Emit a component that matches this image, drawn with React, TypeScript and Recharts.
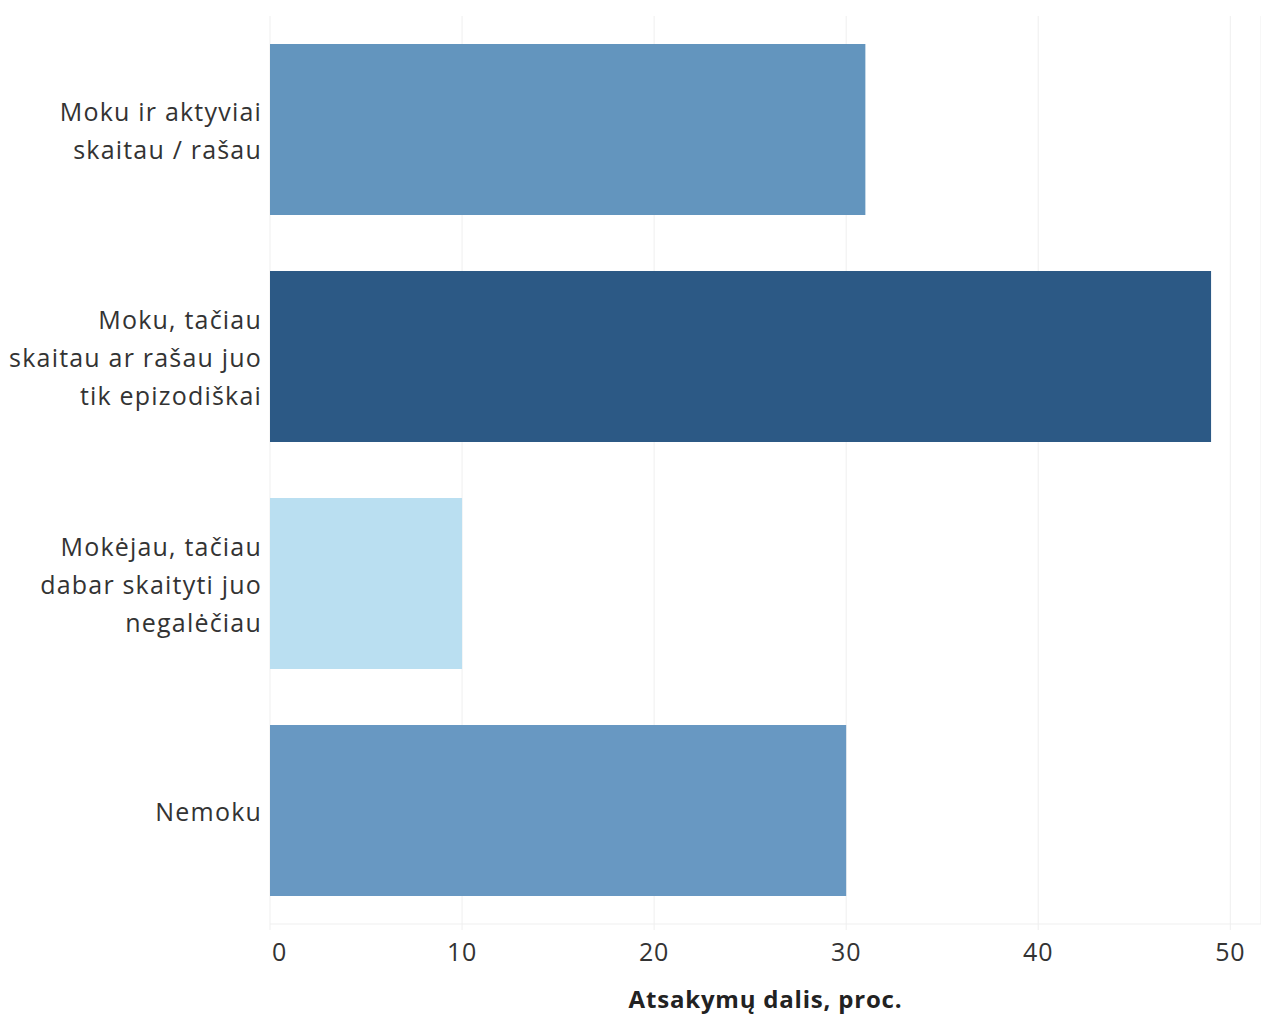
import { BarChart, Bar, XAxis, YAxis, CartesianGrid, Cell, Label } from "recharts";

const categories = [
  "Moku ir aktyviai\nskaitau / rašau",
  "Moku, tačiau\nskaitau ar rašau juo\ntik epizodiškai",
  "Mokėjau, tačiau\ndabar skaityti juo\nnegalėčiau",
  "Nemoku",
];
const shares = [31, 49, 10, 30];
const colors = ["#6395be", "#2c5985", "#badff1", "#6898c2"];
const xTicks = [0, 10, 20, 30, 40, 50];

const data = categories.map((name, i) => ({ name, value: shares[i] }));

const FONT = "'Open Sans', sans-serif";

function CategoryTick({ x, y, payload }: any) {
  const lines = String(payload.value).split("\n");
  const lh = 38;
  const start = y + 2 - ((lines.length - 1) * lh) / 2;
  return (
    <text
      x={x}
      y={start}
      textAnchor="end"
      fill="#333"
      fontSize={25}
      letterSpacing={1.2}
      fontFamily={FONT}
    >
      {lines.map((l, i) => (
        <tspan key={i} x={x} y={start + i * lh} dy="0.35em">
          {l}
        </tspan>
      ))}
    </text>
  );
}

function ValueTick({ x, y, payload }: any) {
  const isZero = payload.value === 0;
  return (
    <text
      x={isZero ? x + 2 : x}
      y={y + 29}
      textAnchor={isZero ? "start" : "middle"}
      fill="#333"
      fontSize={25}
      letterSpacing={0.8}
      fontFamily={FONT}
    >
      {payload.value}
    </text>
  );
}

export default function App() {
  return (
    <div style={{ position: "absolute", left: 0, top: 0, background: "#fff" }}>
      <BarChart
        width={1261}
        height={1014}
        data={data}
        layout="vertical"
        margin={{ top: 16, right: 0, left: 0, bottom: 0 }}
        barCategoryGap={28}
      >
        <CartesianGrid horizontal={false} stroke="#efefef" />
        <XAxis
          type="number"
          domain={[0, 51.6]}
          ticks={xTicks}
          height={90}
          stroke="#efefef"
          tickSize={6}
          tick={<ValueTick />}
          allowDataOverflow
        >
          <Label
            value="Atsakymų dalis, proc."
            position="insideBottom"
            offset={6}
            style={{ fill: "#222", fontSize: 24, fontWeight: 700, fontFamily: FONT, letterSpacing: 0.8 }}
          />
        </XAxis>
        <YAxis
          type="category"
          dataKey="name"
          width={270}
          axisLine={false}
          tickLine={false}
          tick={<CategoryTick />}
          tickMargin={2}
        />
        <Bar dataKey="value" isAnimationActive={false}>
          {data.map((_, i) => (
            <Cell key={i} fill={colors[i]} />
          ))}
        </Bar>
      </BarChart>
    </div>
  );
}
